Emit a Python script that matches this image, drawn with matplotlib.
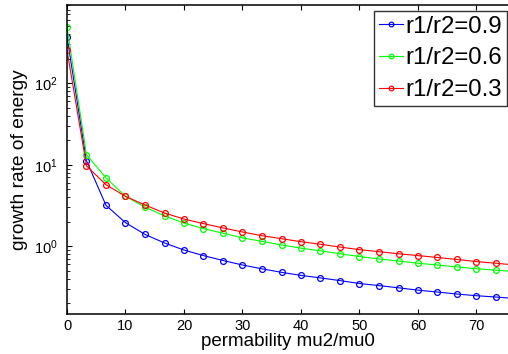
import numpy as np
import matplotlib
matplotlib.use("Agg")
import matplotlib.pyplot as plt

plt.rcParams['font.family'] = ['Liberation Sans', 'DejaVu Sans']
plt.rcParams['mathtext.fontset'] = 'custom'
plt.rcParams['mathtext.rm'] = 'Liberation Sans'
plt.rcParams['mathtext.it'] = 'Liberation Sans:italic'

x_vals = [0, 3.33, 6.67, 10, 13.33, 16.67, 20, 23.33, 26.67, 30, 33.33, 36.67,
          40, 43.33, 46.67, 50, 53.33, 56.67, 60, 63.33, 66.67, 70, 73.33, 76.67]
r09 = [370, 11.2, 3.18, 1.95, 1.40, 1.10, 0.90, 0.77, 0.67, 0.59, 0.53, 0.48,
       0.44, 0.41, 0.38, 0.35, 0.33, 0.31, 0.29, 0.275, 0.26, 0.248, 0.239, 0.229]
r06 = [490, 13.3, 6.9, 4.1, 3.03, 2.36, 1.93, 1.65, 1.45, 1.27, 1.15, 1.04,
       0.95, 0.88, 0.81, 0.75, 0.70, 0.66, 0.62, 0.59, 0.56, 0.53, 0.51, 0.49]
r03 = [254, 9.7, 5.7, 4.1, 3.21, 2.56, 2.16, 1.90, 1.68, 1.50, 1.35, 1.24,
       1.14, 1.06, 0.98, 0.91, 0.86, 0.81, 0.77, 0.73, 0.69, 0.65, 0.62, 0.59]
labels = ['r1/r2=0.9', 'r1/r2=0.6', 'r1/r2=0.3']
colors = ['#0000ff', '#00ff00', '#ff0000']
xticks = [0, 10, 20, 30, 40, 50, 60, 70]

fig = plt.figure(figsize=(5.08, 3.54), dpi=100)
W, H = 508, 354
left, right, top, bottom = 67, 515.5, 5, 314
ax = fig.add_axes([left / W, 1 - bottom / H, (right - left) / W, (bottom - top) / H])

for ys, lab, c in zip([r09, r06, r03], labels, colors):
    ax.plot(x_vals, ys, '-o', color=c, lw=0.8, ms=4.2, mfc='none', mew=0.9, label=lab)

ax.set_yscale('log')
ax.set_xlim(0, 76.67)
ax.set_ylim(0.148, 910)
ax.set_xticks(xticks)
ax.set_xticklabels([str(t) for t in xticks])
ax.tick_params(axis='both', which='both', direction='in', top=True, right=True, labelsize=10.5)
ax.tick_params(axis='both', which='major', length=3.5, width=0.8)
ax.tick_params(axis='both', which='minor', length=2, width=0.6)
ax.tick_params(axis='y', which='major', pad=7)
ax.tick_params(axis='x', which='major', pad=3.5)
for s in ax.spines.values():
    s.set_linewidth(1.1)

ax.set_xlabel('permability mu2/mu0', fontsize=13.5)
ax.xaxis.set_label_coords((288 - left) / (right - left), -(332.5 - bottom) / (bottom - top), transform=ax.transAxes)
ax.set_ylabel('growth rate of energy', fontsize=13.8)
ax.yaxis.set_label_coords(-(67 - 28) / (right - left), 0.5)

leg = ax.legend(loc='upper right', bbox_to_anchor=((507 - left) / (right - left), 1 - (11 - top) / (bottom - top)),
                fontsize=17.3, handlelength=1.0, handletextpad=0.12, borderpad=0.2,
                labelspacing=0.4, borderaxespad=0, fancybox=False, markerscale=0.8)
leg.get_frame().set_edgecolor('black')
leg.get_frame().set_linewidth(1.0)

fig.savefig('out.png', dpi=100)
